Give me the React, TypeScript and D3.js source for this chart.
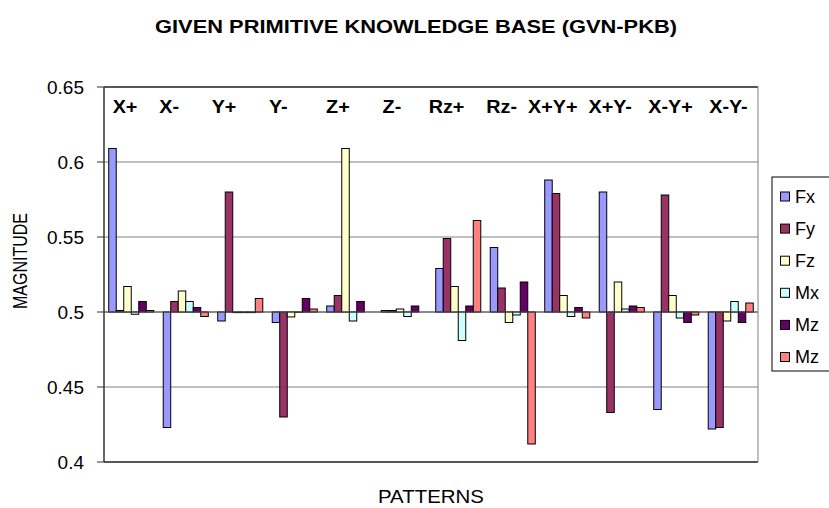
import React from 'react';
import * as d3 from 'd3';

const categories = ['X+', 'X-', 'Y+', 'Y-', 'Z+', 'Z-', 'Rz+', 'Rz-', 'X+Y+', 'X+Y-', 'X-Y+', 'X-Y-'];
const seriesNames = ['Fx', 'Fy', 'Fz', 'Mx', 'Mz', 'Mz'];
const seriesColors = ['#9999FF', '#993366', '#FFFFCC', '#CCFFFF', '#660066', '#FF8080'];
const fx = [0.609, 0.423, 0.494, 0.493, 0.504, 0.501, 0.529, 0.543, 0.588, 0.580, 0.435, 0.422];
const fy = [0.501, 0.507, 0.580, 0.430, 0.511, 0.501, 0.549, 0.516, 0.579, 0.433, 0.578, 0.423];
const fz = [0.517, 0.514, 0.4996, 0.4967, 0.609, 0.502, 0.517, 0.493, 0.511, 0.520, 0.511, 0.494];
const mx = [0.4985, 0.507, 0.4996, 0.4998, 0.494, 0.497, 0.481, 0.498, 0.497, 0.502, 0.496, 0.507];
const mz = [0.507, 0.503, 0.4996, 0.509, 0.507, 0.504, 0.504, 0.520, 0.503, 0.504, 0.493, 0.493];
const mz2 = [0.501, 0.497, 0.509, 0.502, 0.5, 0.5, 0.561, 0.412, 0.496, 0.503, 0.498, 0.506];
const seriesValues = [fx, fy, fz, mx, mz, mz2];
const yTicks = [0.4, 0.45, 0.5, 0.55, 0.6, 0.65];
const baseValue = 0.5;
const title = 'GIVEN PRIMITIVE KNOWLEDGE BASE (GVN-PKB)';
const header = 'X+    X-      Y+      Y-       Z+      Z-     Rz+    Rz-  X+Y+  X+Y-   X-Y+   X-Y-';
const xTitle = 'PATTERNS';
const yTitle = 'MAGNITUDE';

const W = 829;
const H = 508;
const plot = { left: 104, right: 758, top: 87, bottom: 462 };
const font = '"Liberation Sans", Arial, sans-serif';

export default function App() {
  const x0 = d3.scaleBand<string>().domain(categories).range([plot.left, plot.right]).padding(0);
  const x1 = d3
    .scaleBand<number>()
    .domain(d3.range(seriesNames.length))
    .range([0, x0.bandwidth()])
    .paddingInner(0)
    .paddingOuter(0.63);
  const y = d3.scaleLinear().domain([0.4, 0.65]).range([plot.bottom, plot.top]);
  const y0 = y(baseValue);

  return (
    <svg
      width={W}
      height={H}
      style={{ position: 'absolute', left: 0, top: 0, background: '#fff' }}
      fontFamily={font}
    >
      <rect x={0} y={0} width={W} height={H} fill="#fff" />
      <text
        x={416}
        y={33}
        textAnchor="middle"
        fontWeight="bold"
        fontSize={18}
        textLength={522}
        lengthAdjust="spacingAndGlyphs"
        fill="#000"
      >
        {title}
      </text>

      {yTicks.map((t) => (
        <line
          key={'g' + t}
          x1={plot.left}
          x2={plot.right}
          y1={y(t)}
          y2={y(t)}
          stroke="#808080"
          strokeWidth={1}
        />
      ))}

      {seriesValues.map((vals, si) => (
        <g key={'s' + si}>
          {vals.map((v, ci) => {
            const xb = (x0(categories[ci]) as number) + (x1(si) as number);
            const yv = y(v);
            const top = Math.min(yv, y0);
            const h = Math.abs(yv - y0);
            return (
              <rect
                key={ci}
                x={xb}
                y={top}
                width={x1.bandwidth()}
                height={h}
                fill={seriesColors[si]}
                stroke="#000"
                strokeWidth={1}
              />
            );
          })}
        </g>
      ))}

      <line x1={plot.left} x2={plot.right} y1={y0} y2={y0} stroke="#555" strokeWidth={1} />

      <line x1={plot.left} x2={plot.right} y1={plot.top} y2={plot.top} stroke="#333" strokeWidth={1.5} />
      <line x1={plot.left} x2={plot.right} y1={plot.bottom} y2={plot.bottom} stroke="#333" strokeWidth={1.5} />
      <line x1={plot.right} x2={plot.right} y1={plot.top} y2={plot.bottom} stroke="#808080" strokeWidth={1} />

      <line x1={plot.left} x2={plot.left} y1={plot.top} y2={plot.bottom} stroke="#333" strokeWidth={1.5} />
      {yTicks.map((t) => (
        <g key={'t' + t}>
          <line x1={plot.left - 7} x2={plot.left} y1={y(t)} y2={y(t)} stroke="#333" strokeWidth={1} />
          <text x={plot.left - 20} y={y(t)} dy="0.36em" textAnchor="end" fontSize={19} fill="#000">
            {String(t)}
          </text>
        </g>
      ))}

      <text
        x={112.7}
        y={113}
        fontWeight="bold"
        fontSize={19}
        fill="#000"
        textLength={635}
        lengthAdjust="spacingAndGlyphs"
        style={{ whiteSpace: 'pre' }}
      >
        {header}
      </text>

      <text x={431} y={503} textAnchor="middle" fontSize={18.5} textLength={106} lengthAdjust="spacingAndGlyphs" fill="#000">
        {xTitle}
      </text>
      <text
        transform="translate(27,261) scale(1.3,1) rotate(-90)"
        textAnchor="middle"
        fontSize={16}
        fill="#000"
      >
        {yTitle}
      </text>

      <rect x={772} y={177} width={80} height={194} fill="#fff" stroke="#000" strokeWidth={1} />
      {seriesNames.map((n, i) => {
        const cy = 196.5 + i * 32.1;
        return (
          <g key={'l' + i}>
            <rect x={780.5} y={cy - 4.5} width={9} height={9} fill={seriesColors[i]} stroke="#000" strokeWidth={1} />
            <text x={795} y={cy} dy="0.36em" fontSize={18} fill="#000">
              {n}
            </text>
          </g>
        );
      })}
    </svg>
  );
}
